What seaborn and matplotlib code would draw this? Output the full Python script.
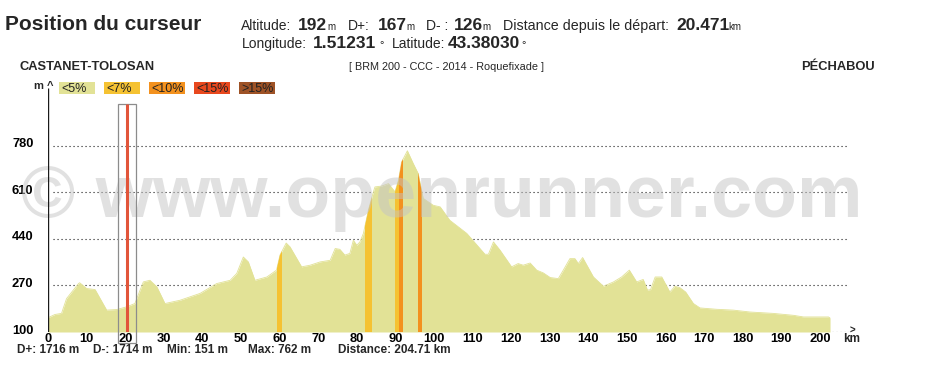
import matplotlib
matplotlib.use("Agg")
import matplotlib.pyplot as plt
import matplotlib.transforms as mtransforms
from matplotlib.patches import Rectangle
import pandas as pd
import seaborn as sns

# --- profile data (km, altitude m) ---
km = [0, 1.8, 3.5, 4.8, 7.9, 8.2, 10.0, 12.2, 15.2, 17.8, 20.4, 22.5, 24.7, 26.4, 28.2,
      30.3, 34.2, 39.4, 43.7, 47.2, 48.9, 50.6, 51.9, 53.6, 56.7, 59.2, 60.1, 61.7, 62.7,
      65.7, 67.9, 70.5, 73.1, 74.4, 75.6, 76.9, 78.2, 79.1, 80.0, 80.8, 81.7, 83.0, 84.3,
      84.7, 86.4, 88.2, 89.9, 90.8, 91.6, 93.1, 94.6, 95.9, 97.2, 99.8, 101.6, 104.1,
      108.5, 113.2, 114.1, 115.4, 117.1, 120.1, 121.8, 123.1, 124.9, 126.6, 128.3, 130.1,
      132.2, 133.5, 135.2, 136.5, 137.4, 138.5, 141.3, 143.9, 146.5, 148.6, 150.6, 152.5,
      154.2, 155.3, 156.1, 157.3, 159.0, 161.1, 162.4, 163.7, 165.2, 167.2, 168.9, 170.6,
      173.2, 177.5, 181.9, 187.9, 193.1, 195.7, 202.2, 202.6]
alt = [152, 164, 168, 222, 277, 280, 259, 255, 180, 182, 192, 204, 283, 289, 265,
       204, 216, 241, 277, 289, 314, 374, 356, 289, 301, 326, 381, 425, 411,
       338, 344, 356, 362, 405, 402, 381, 387, 435, 417, 429, 460, 545, 612,
       630, 633, 642, 612, 655, 721, 762, 716, 679, 588, 563, 557, 508,
       460, 384, 384, 429, 399, 338, 350, 344, 352, 326, 316, 299,
       295, 326, 368, 368, 350, 372, 301, 267, 283, 301, 326, 283,
       292, 253, 255, 301, 301, 246, 267, 262, 246, 204, 188, 186,
       183, 180, 173, 168, 161, 155, 155, 151]

# slope bands (start km, end km, class)
band_start = [59.4, 82.0, 89.9, 90.9, 95.8]
band_end = [60.5, 83.9, 90.9, 92.0, 96.8]
band_class = ["<7%", "<7%", "<7%", "<10%", "<10%"]

classes = ["<5%", "<7%", "<10%", "<15%", ">15%"]
class_colors = ["#E2E296", "#F5C232", "#F3911E", "#E8481E", "#9E5226"]

x_ticks = list(range(0, 201, 10))
y_ticks = [100, 270, 440, 610, 780]

cursor_km = 20.471
stats = ["D+: 1716 m", "D-: 1714 m", "Min: 151 m", "Max: 762 m", "Distance: 204.71 km"]

W, H = 926, 377
sns.set_theme(style="white")
plt.rcParams['font.family'] = ['Liberation Sans', 'DejaVu Sans']

fig = plt.figure(figsize=(W / 100, H / 100), dpi=100)
fig.patch.set_facecolor("white")
ax = fig.add_axes([48 / W, (H - 332) / H, 814 / W, 244 / H])
ax.set_facecolor("none")
y_top = 100 + 244 * 3.653
ax.set_xlim(0, 814 / 3.86)
ax.set_ylim(100, y_top)


def ftext(x, y, s, **kw):
    # place text in figure pixel coordinates (y from top)
    return fig.text(x / W, 1 - y / H, s, **kw)


# profile
df = pd.DataFrame({"km": km, "alt": alt})
fill_col = class_colors[0]
sns.lineplot(data=df, x="km", y="alt", color=fill_col, lw=0.6, ax=ax, zorder=1)
poly = ax.fill_between(df["km"], df["alt"], 100, color=fill_col, lw=0, zorder=1)
clip_path = poly.get_paths()[0]
cmap = dict(zip(classes, class_colors))
for a, b, c in zip(band_start, band_end, band_class):
    sp = ax.axvspan(a, b, color=cmap[c], lw=0, zorder=1.5)
    sp.set_clip_path(clip_path, ax.transData)

# dotted grid + dotted x axis
ax.hlines(y_ticks[1:], 1.4, 207, colors="k", linestyles=(0, (1, 2.6)), lw=0.8, zorder=0.5)
ax.hlines(100, 0, 207.5, colors="k", linestyles=(0, (1, 2.6)), lw=0.8, zorder=0.5)
ax.text(208.3, 100, ">", fontsize=7, fontweight="bold", ha="center", va="bottom",
        transform=ax.transData + mtransforms.ScaledTranslation(0, -0.04, fig.dpi_scale_trans))
ax.text(208.3, 100, "km", fontsize=8.5, fontweight="bold", ha="center", va="top",
        transform=ax.transData + mtransforms.ScaledTranslation(0, -0.01, fig.dpi_scale_trans))

# y axis line
ax.plot([0, 0], [100, y_top], color="k", lw=1, zorder=3, solid_capstyle="butt")
ftext(50, 86, "^", fontsize=8, fontweight="bold", ha="center", va="center")
ftext(38, 86, "m", fontsize=8, fontweight="bold", ha="center", va="center")

for s in ax.spines.values():
    s.set_visible(False)
ax.grid(False)
ax.set_xlabel("")
ax.set_ylabel("")
ax.set_xticks(x_ticks)
ax.set_yticks(y_ticks)
ax.tick_params(axis="both", length=0, labelsize=9.3, colors="black")
ax.tick_params(axis="x", pad=0.8)
ax.tick_params(axis="y", pad=10.5)
for lbl in ax.get_xticklabels():
    lbl.set_fontweight("bold")
shift = mtransforms.ScaledTranslation(0, 0.03, fig.dpi_scale_trans)
for lbl in ax.get_yticklabels():
    lbl.set_fontweight("bold")
    lbl.set_transform(lbl.get_transform() + shift)

# cursor
ax.add_patch(Rectangle((cursor_km - 2.3, 60), 4.6, y_top - 60 - 58, fill=False,
                       ec="#8C8C8C", lw=0.9, clip_on=False, zorder=3))
ax.vlines(cursor_km, 100, y_top - 58, color="#E2553A", lw=2.2, zorder=3.1)

# watermark
ax.text((18 + 865) / 2 / W, 1 - 217 / H, "\u00a9 www.openrunner.com", transform=fig.transFigure,
        fontsize=53, fontweight="bold", color="#C4C4C4", alpha=0.5, ha="center",
        va="baseline", zorder=2.2, clip_on=False)

# header
header = [
    (5, 30, "Position du curseur", 15, "bold"),
    (241, 30, "Altitude:", 10, "normal"), (298, 30, "192", 12.5, "bold"), (327, 30, "m", 7, "normal"),
    (348, 30, "D+:", 10, "normal"), (378, 30, "167", 12.5, "bold"), (406, 30, "m", 7, "normal"),
    (426, 30, "D- :", 10, "normal"), (454, 30, "126", 12.5, "bold"), (482, 30, "m", 7, "normal"),
    (503, 30, "Distance depuis le départ:", 10.3, "normal"), (676, 30, "20.471", 12.5, "bold"),
    (728, 30, "km", 7, "normal"),
    (242, 48, "Longitude:", 10, "normal"), (313, 48, "1.51231", 12.5, "bold"), (379, 48, "°", 8, "normal"),
    (392, 48, "Latitude:", 10, "normal"), (448, 48, "43.38030", 12.5, "bold"), (521, 48, "°", 8, "normal"),
]
for x, y, s, size, weight in header:
    ftext(x, y, s, fontsize=size, fontweight=weight, va="baseline", ha="left")

ftext(20, 67, "CASTANET-TOLOSAN", fontsize=9.3, fontweight="bold", va="center")
ftext(349, 67, "[ BRM 200 - CCC - 2014 - Roquefixade ]", fontsize=7.8, va="center")
ftext(801, 67, "PÉCHABOU", fontsize=9.3, fontweight="bold", va="center")

# legend boxes
for i, (name, col) in enumerate(zip(classes, class_colors)):
    x0 = 59 + 45 * i
    fig.patches.append(Rectangle((x0 / W, 1 - 94 / H), 36 / W, 12 / H, transform=fig.transFigure,
                                 facecolor=col, edgecolor="none"))
    ftext(x0 + 2, 88.5, name, fontsize=9, color="#222222", va="center")

# footer stats
for x, s in zip([17, 93, 167, 248, 338], stats):
    ftext(x, 350, s, fontsize=8.5, fontweight="bold", va="center")

fig.savefig("out.png", dpi=100, facecolor="white")
